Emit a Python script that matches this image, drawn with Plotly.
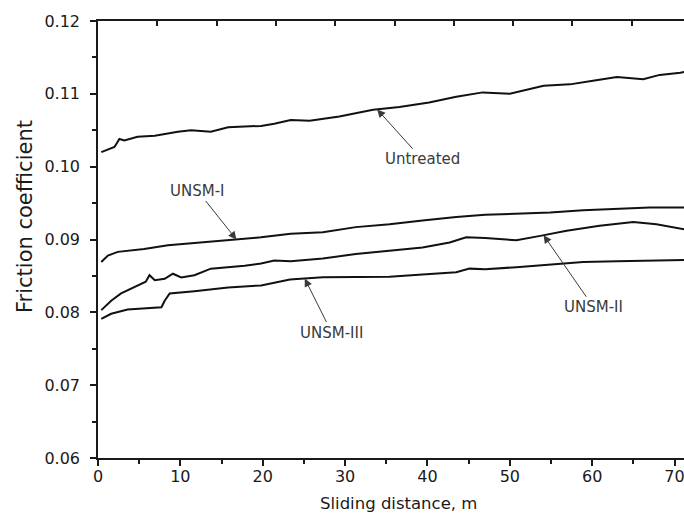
import numpy as np
import plotly.graph_objects as go

# Friction coefficient vs sliding distance for untreated and UNSM-treated samples
untreated_x = [0.4, 2.0, 2.6, 3.2, 4.8, 6.9, 9.7, 11.3, 13.7, 15.8, 17.8, 19.8, 21.4, 23.4,
               25.7, 29.3, 33.4, 36.6, 40.2, 43.5, 46.7, 50.0, 54.1, 57.3, 60.1, 63.0,
               66.2, 68.2, 70.7, 71.2]
untreated_y = [0.1020, 0.1027, 0.1038, 0.1036, 0.1041, 0.10425, 0.1048, 0.1050, 0.1048,
               0.1054, 0.1055, 0.1056, 0.1059, 0.1064, 0.1063, 0.1069, 0.1078, 0.1082,
               0.1088, 0.1096, 0.1102, 0.1100, 0.1111, 0.1113, 0.1118, 0.1123, 0.1120,
               0.1126, 0.1129, 0.1130]

unsm1_x = [0.4, 1.2, 2.4, 5.6, 8.5, 11.7, 15.8, 19.8, 23.4, 27.3, 31.3, 35.4, 39.4, 43.5,
           47.0, 50.8, 54.9, 58.9, 63.0, 67.0, 70.7, 71.2]
unsm1_y = [0.0869, 0.0878, 0.0883, 0.0887, 0.0892, 0.0895, 0.0899, 0.0903, 0.0908, 0.0910,
           0.0917, 0.0921, 0.0926, 0.0931, 0.0934, 0.0935, 0.0937, 0.0940, 0.0942, 0.0944,
           0.0944, 0.0944]

unsm2_x = [0.4, 1.6, 2.8, 4.4, 5.8, 6.25, 6.9, 8.1, 9.1, 10.1, 11.7, 13.7, 15.8, 17.8, 19.8,
           21.4, 23.4, 27.3, 31.3, 35.4, 39.4, 42.7, 44.7, 47.0, 50.8, 53.7, 56.9, 60.9,
           65.0, 67.8, 70.7, 71.2]
unsm2_y = [0.0803, 0.0816, 0.0826, 0.0835, 0.0842, 0.0851, 0.0844, 0.0846, 0.0853, 0.0848,
           0.0851, 0.0860, 0.0862, 0.0864, 0.0867, 0.0871, 0.0870, 0.0874, 0.0880, 0.0885,
           0.0889, 0.0896, 0.0903, 0.0902, 0.0899, 0.0905, 0.0912, 0.0919, 0.0924, 0.0921,
           0.0915, 0.0914]

unsm3_x = [0.4, 1.6, 3.6, 5.6, 7.7, 8.1, 8.7, 11.7, 15.8, 19.8, 23.3, 27.3, 31.3, 35.4,
           39.4, 43.5, 45.1, 47.0, 50.8, 54.9, 58.9, 63.0, 67.0, 70.7, 71.2]
unsm3_y = [0.0791, 0.0798, 0.0804, 0.0805, 0.0807, 0.0816, 0.0826, 0.0829, 0.0834, 0.0837,
           0.0845, 0.0848, 0.0848, 0.0849, 0.0852, 0.0855, 0.0860, 0.0859, 0.0862, 0.0866,
           0.0869, 0.0870, 0.0871, 0.0872, 0.0872]

series = [
    ("Untreated", untreated_x, untreated_y),
    ("UNSM-I", unsm1_x, unsm1_y),
    ("UNSM-II", unsm2_x, unsm2_y),
    ("UNSM-III", unsm3_x, unsm3_y),
]

# callout: label, distance the arrow points at, text offset (px)
callouts = [
    ("Untreated", 33.9, 45, 50),
    ("UNSM-I", 16.8, -39, -49),
    ("UNSM-II", 54.1, 50, 72),
    ("UNSM-III", 25.1, 27, 54),
]

x_ticks = [0, 10, 20, 30, 40, 50, 60, 70]
y_ticks = [0.06, 0.07, 0.08, 0.09, 0.10, 0.11, 0.12]

FONT = "DejaVu Sans"
INK = "#1a1a1a"

fig = go.Figure()
for name, xs, ys in series:
    fig.add_trace(go.Scatter(x=xs, y=ys, mode="lines", name=name,
                             line=dict(color="#111111", width=2), showlegend=False))

# carrier trace for the upper tick axis
fig.add_trace(go.Scatter(x=[0], y=[0.06], xaxis="x2", mode="markers",
                         marker=dict(opacity=0), showlegend=False, hoverinfo="skip"))

data = {name: (xs, ys) for name, xs, ys in series}
for label, xd, ax, ay in callouts:
    xs, ys = data[label]
    fig.add_annotation(x=xd, y=float(np.interp(xd, xs, ys)), text=label,
                       ax=ax, ay=ay, showarrow=True, arrowhead=2, arrowsize=1.6,
                       arrowwidth=1, arrowcolor="#3a3a3a",
                       font=dict(family=FONT, size=15, color="#3a3a3a"))

fig.add_annotation(text="Sliding distance, m", xref="paper", yref="paper",
                   x=(398 - 98) / 586, y=-(503 - 458) / 437, xanchor="center",
                   yanchor="middle", showarrow=False,
                   font=dict(family=FONT, size=16.5, color=INK))
fig.add_annotation(text="Friction coefficient", xref="paper", yref="paper",
                   x=-(98 - 25) / 586, y=(458 - 217) / 437, xanchor="center",
                   yanchor="middle", textangle=-90,
                   showarrow=False, font=dict(family=FONT, size=21, color=INK))

fig.update_layout(
    width=684, height=519,
    margin=dict(l=98, r=0, t=21, b=61),
    paper_bgcolor="white", plot_bgcolor="white",
    xaxis=dict(range=[0, 71.15], tickvals=x_ticks, ticks="outside", ticklen=6,
               tickwidth=1.5, tickcolor=INK, showline=True, linecolor=INK, linewidth=1.5,
               showgrid=False, zeroline=False, ticklabeloverflow="allow",
               ticklabelstandoff=-3,
               minor=dict(dtick=5, tick0=0, ticks="outside", ticklen=4, tickwidth=1.5,
                          tickcolor=INK),
               tickfont=dict(family=FONT, size=16, color=INK)),
    xaxis2=dict(overlaying="x", side="top", range=[0, 9.88], dtick=1, tick0=0,
                ticks="inside", ticklen=5, tickwidth=1.5, tickcolor=INK,
                showline=True, linecolor=INK, linewidth=1.5, showgrid=False,
                zeroline=False, showticklabels=False),
    yaxis=dict(range=[0.06, 0.12], tickvals=y_ticks, tickformat=".2f", ticks="outside",
               ticklen=6, tickwidth=1.5, tickcolor=INK, showline=True, linecolor=INK,
               linewidth=1.5, showgrid=False, zeroline=False, ticklabelstandoff=7,
               minor=dict(dtick=0.005, ticks="outside", ticklen=4, tickwidth=1.5,
                          tickcolor=INK),
               tickfont=dict(family=FONT, size=16, color=INK)),
)

fig.write_html("out.html")
